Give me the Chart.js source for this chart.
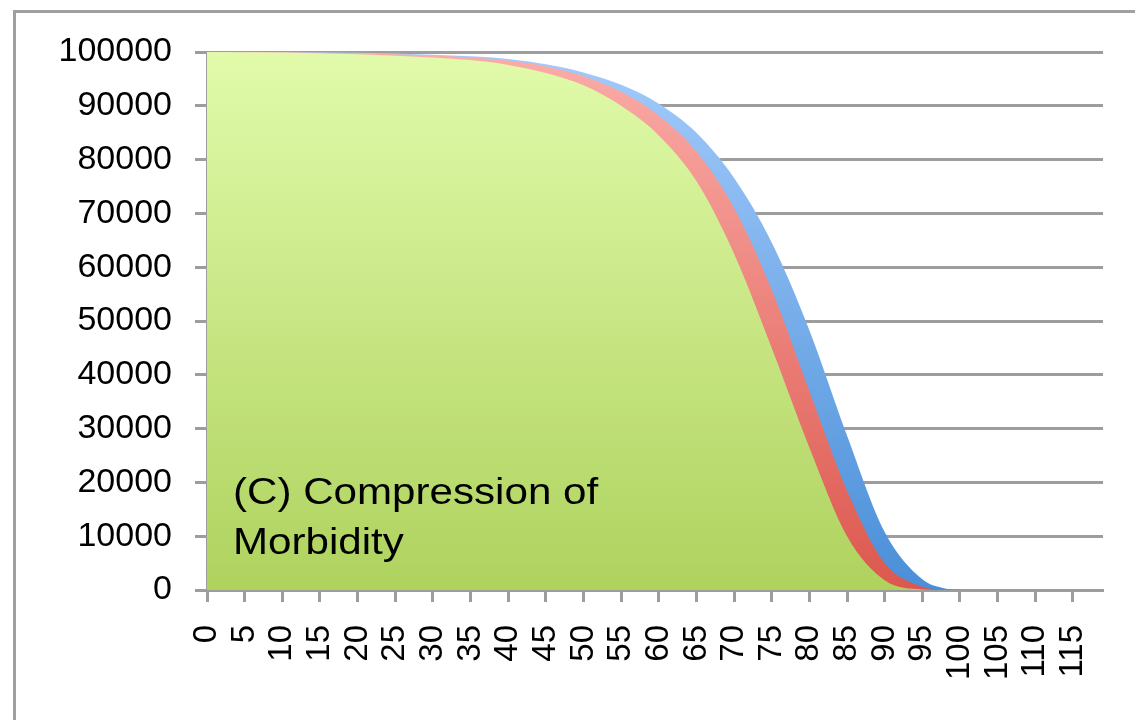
<!DOCTYPE html>
<html>
<head>
<meta charset="utf-8">
<script src="https://cdn.jsdelivr.net/npm/chart.js@4.4.1/dist/chart.umd.min.js"></script>
<style>
  body { margin: 0; background: #fff; }
  #wrap { width: 1135px; height: 720px; }
</style>
</head>
<body>
<div id="wrap"><canvas id="chart"></canvas></div>
<script>
// ages, survivors (per 100000)
const ages = [0, 10, 20, 30, 35, 40, 45, 50, 55, 60, 65, 70, 75, 80, 85, 90, 95, 98, 100, 105, 119];
const healthy = [100000, 99900, 99600, 99000, 98500, 97600, 96100, 93800, 90000, 84500, 76000, 62500, 45000, 26500, 10000, 1800, 100, 0, 0, 0, 0];
const withMildDisability = [100000, 99950, 99750, 99350, 99000, 98400, 97300, 95500, 92600, 88200, 81500, 71000, 55800, 37000, 18500, 5000, 600, 50, 0, 0, 0];
const allSurvivors = [100000, 99970, 99850, 99500, 99200, 98700, 97700, 96200, 93900, 90400, 85000, 76600, 64600, 48300, 28700, 10800, 2000, 300, 50, 0, 0];

const xTicks = [0, 5, 10, 15, 20, 25, 30, 35, 40, 45, 50, 55, 60, 65, 70, 75, 80, 85, 90, 95, 100, 105, 110, 115];
const label = ['(C) Compression of', 'Morbidity'];

const gray = '#9d9d9d';

function fade(top, bottom) {
    return function(ctx) {
        const area = ctx.chart.chartArea;
        if (!area) return bottom;
        const g = ctx.chart.ctx.createLinearGradient(0, area.top, 0, area.bottom);
        g.addColorStop(0, top);
        g.addColorStop(1, bottom);
        return g;
    };
}

function points(values) {
    return ages.map((a, i) => ({x: a, y: values[i]}));
}

function series(values, top, bottom) {
    return {
        data: points(values),
        backgroundColor: fade(top, bottom),
        borderWidth: 0,
        pointRadius: 0,
        fill: 'origin',
        cubicInterpolationMode: 'monotone'
    };
}

const frame = {
    id: 'frame',
    beforeDraw(chart) {
        const c = chart.ctx;
        c.save();
        c.strokeStyle = '#a0a0a0';
        c.lineWidth = 3;
        c.strokeRect(14.5, 11.5, 2000, 2000);
        c.restore();
    }
};

const note = {
    id: 'note',
    afterDatasetsDraw(chart) {
        const c = chart.ctx;
        c.save();
        c.fillStyle = '#000';
        c.font = '36px "Liberation Sans", Arial, sans-serif';
        c.textBaseline = 'alphabetic';
        c.translate(233, 0);
        c.scale(1.17, 1);
        c.fillText(label[0], 0, 504);
        c.fillText(label[1], 0, 554);
        c.restore();
    }
};

new Chart(document.getElementById('chart'), {
    type: 'line',
    data: {
        datasets: [
            series(healthy, '#e1fbab', '#afd25e'),
            series(withMildDisability, '#fbaca8', '#dc584e'),
            series(allSurvivors, '#a3cbfb', '#4a8fd8')
        ]
    },
    options: {
        responsive: true,
        maintainAspectRatio: false,
        animation: false,
        layout: {
            padding: {top: 52, right: 32, left: 0, bottom: 0}
        },
        plugins: {
            legend: {display: false},
            tooltip: {enabled: false}
        },
        scales: {
            x: {
                type: 'linear',
                min: 0,
                max: 119,
                z: 1,
                afterBuildTicks: (scale) => {
                    scale.ticks = xTicks.map(v => ({value: v}));
                },
                afterFit: (scale) => {
                    scale.height = 130;
                    scale.paddingLeft = 0;
                    scale.paddingRight = 0;
                },
                ticks: {
                    autoSkip: false,
                    minRotation: 90,
                    maxRotation: 90,
                    padding: 23,
                    color: '#000',
                    font: {family: '"Liberation Sans", Arial, sans-serif', size: 33},
                    callback: (v) => String(v)
                },
                grid: {
                    drawOnChartArea: false,
                    drawTicks: true,
                    tickLength: 12,
                    tickWidth: 3,
                    tickColor: gray
                },
                border: {color: gray, width: 3}
            },
            y: {
                min: 0,
                max: 100000,
                afterFit: (scale) => {
                    scale.width = 207;
                    scale.paddingTop = 0;
                    scale.paddingBottom = 0;
                },
                ticks: {
                    stepSize: 10000,
                    padding: 23,
                    color: '#000',
                    font: {family: '"Liberation Sans", Arial, sans-serif', size: 34},
                    callback: (v) => String(v)
                },
                grid: {
                    color: gray,
                    lineWidth: 3,
                    tickLength: 12,
                    tickColor: gray
                },
                border: {color: gray, width: 3}
            }
        }
    },
    plugins: [frame, note]
});
</script>
</body>
</html>
